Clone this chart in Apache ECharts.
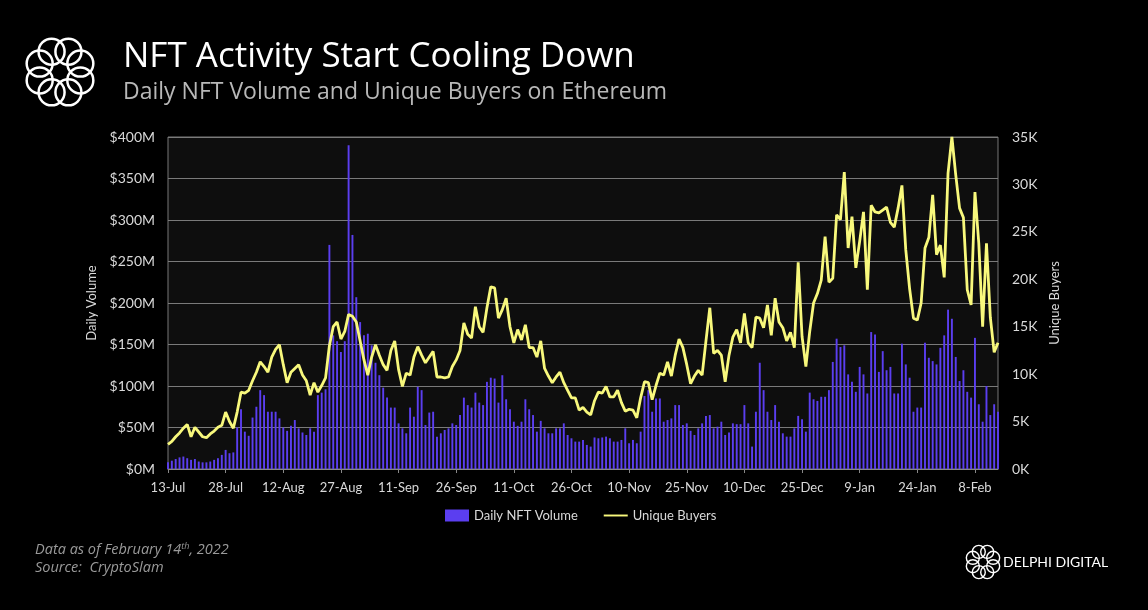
<!DOCTYPE html>
<html>
<head>
<meta charset="utf-8">
<script src="https://cdn.jsdelivr.net/npm/echarts@6/dist/echarts.min.js"></script>
<style>
html,body{margin:0;padding:0;background:#000;}
#chart{width:1148px;height:610px;}
</style>
</head>
<body>
<div id="chart"></div>
<script>
// Daily NFT volume on Ethereum, $M, one value per day starting 13-Jul-2021
const dailyVolume = [
  8,10,12,14,15,13,11,12,9,8,
  8,9,11,13,17,23,19,20,50,72,
  45,40,62,75,95,89,69,69,69,61,
  50,46,52,59,49,44,41,49,45,89,
  92,96,270,161,154,141,154,390,282,207,
  177,161,163,149,128,113,98,86,74,74,
  55,49,43,74,63,99,95,53,68,69,
  39,43,47,49,55,53,65,86,77,74,
  92,80,77,105,110,109,80,113,84,72,
  57,52,57,84,72,65,45,58,49,43,
  43,49,49,55,41,37,33,33,35,29,
  27,38,37,38,39,37,33,33,35,49,
  31,35,31,45,88,95,69,85,85,57,
  59,61,77,77,53,55,46,41,49,55,
  64,65,49,51,57,41,44,55,54,54,
  77,55,27,69,128,95,69,59,77,57,
  43,39,39,49,64,60,45,92,84,82,
  87,87,95,129,157,147,149,114,105,93,
  123,114,91,165,162,117,142,119,123,91,
  91,151,126,110,69,74,74,152,134,130,
  126,146,161,192,181,135,106,119,93,86,
  158,78,57,100,65,78,69
];
// Unique buyers, thousands
const uniqueBuyersK = [
  2.6,2.9,3.4,3.8,4.3,4.7,3.4,4.4,3.9,3.4,
  3.3,3.7,4.0,4.4,4.6,6.0,5.0,4.3,6.0,8.1,
  8.0,8.3,9.3,10.2,11.3,10.8,10.2,11.8,12.6,13.1,
  11.0,9.1,10.2,10.6,11.0,9.9,9.3,7.8,9.1,8.1,
  8.8,9.6,13.0,15.0,15.5,13.7,14.5,16.3,16.1,15.5,
  13.5,11.5,9.9,11.8,13.1,12.0,11.0,10.4,12.5,13.5,
  10.5,8.7,10.1,9.9,11.8,12.9,12.0,11.2,11.8,12.4,
  9.7,9.7,9.6,9.7,10.8,11.5,12.5,15.4,14.2,13.8,
  17.1,15.0,14.4,17.0,19.2,19.1,15.9,16.8,18.0,15.0,
  13.3,14.7,13.6,15.2,12.8,12.8,11.8,13.5,10.6,9.8,
  9.1,9.7,10.2,9.1,8.3,7.5,7.5,6.2,6.5,6.0,
  5.7,7.2,8.1,8.0,8.7,7.6,7.6,8.3,7.0,6.1,
  6.3,6.2,5.4,7.5,9.2,9.1,7.3,8.8,10.1,9.9,
  11.3,9.8,12.0,13.7,12.8,11.0,9.0,9.8,10.4,9.9,
  13.5,17.0,12.2,12.5,12.0,9.2,12.0,13.9,14.7,13.3,
  16.4,13.3,12.8,16.0,15.9,14.9,17.3,14.1,18.0,15.5,
  14.9,13.5,14.4,12.8,21.8,14.0,10.8,14.5,17.5,18.5,
  19.9,24.5,19.7,20.1,26.8,26.3,31.3,23.3,26.6,21.2,
  24.0,27.1,18.9,27.8,27.1,27.0,27.3,27.6,26.0,25.5,
  27.5,29.9,23.1,19.0,15.9,15.7,17.5,23.3,24.4,28.9,
  22.6,23.6,20.2,31.2,35.0,31.0,27.5,26.5,18.9,17.3,
  29.2,23.8,15.0,23.8,16.0,12.3,13.3
];
const startDate = '2021-07-13';
const monthNames = ['Jan','Feb','Mar','Apr','May','Jun','Jul','Aug','Sep','Oct','Nov','Dec'];
const leftTicks = [0, 400, 50];    // min, max, interval ($M)
const rightTicks = [0, 35000, 5000];

// category labels (one per day)
const dates = [];
(function(){
  const t0 = Date.parse(startDate + 'T00:00:00Z');
  for (let i = 0; i < dailyVolume.length; i++) {
    const d = new Date(t0 + i * 86400000);
    dates.push(d.getUTCDate() + '-' + monthNames[d.getUTCMonth()]);
  }
})();
const buyers = uniqueBuyersK.map(v => Math.round(v * 1000));

function logo(cx, cy, R, r, lw) {
  const els = [];
  for (let i = 0; i < 8; i++) {
    const a = i * Math.PI / 4 + Math.PI / 8;
    els.push({
      type: 'circle',
      shape: { cx: cx + R * Math.cos(a), cy: cy + R * Math.sin(a), r: r },
      style: { fill: 'none', stroke: '#fff', lineWidth: lw }
    });
  }
  return els;
}

const chart = echarts.init(document.getElementById('chart'), null, { renderer: 'canvas' });
const axisFont = 'Lato, "Liberation Sans", sans-serif';
const footFont = '"Open Sans", sans-serif';

chart.setOption({
  backgroundColor: '#000',
  animation: false,
  title: {
    text: 'NFT Activity Start Cooling Down',
    subtext: 'Daily NFT Volume and Unique Buyers on Ethereum',
    left: 118, top: 35,
    itemGap: 6,
    textStyle: { color: '#ffffff', fontSize: 35, fontWeight: 'normal', fontFamily: '"Open Sans", sans-serif' },
    subtextStyle: { color: '#b8b8b8', fontSize: 23, fontFamily: '"Open Sans", sans-serif' }
  },
  legend: {
    bottom: 83,
    left: 440,
    itemGap: 26,
    itemWidth: 24,
    itemHeight: 12,
    textStyle: { color: '#d9d9d9', fontSize: 13, fontFamily: axisFont },
    data: [
      { name: 'Daily NFT Volume', icon: 'rect' },
      { name: 'Unique Buyers', icon: 'path://M0,0 L30,0 L30,2.4 L0,2.4 Z' }
    ]
  },
  grid: {
    left: 168, right: 150, top: 137, bottom: 141,
    show: true, backgroundColor: '#0e0e0e', borderColor: '#777', borderWidth: 1
  },
  xAxis: {
    type: 'category',
    data: dates,
    boundaryGap: false,
    axisLine: { lineStyle: { color: '#888', width: 1 } },
    axisTick: { show: true, interval: 14, length: 4, lineStyle: { color: '#888' } },
    axisLabel: { interval: 14, color: '#d9d9d9', fontSize: 13, margin: 12, fontFamily: axisFont },
    splitLine: { show: false }
  },
  yAxis: [
    {
      type: 'value',
      min: leftTicks[0], max: leftTicks[1], interval: leftTicks[2],
      name: 'Daily Volume',
      nameLocation: 'middle',
      nameGap: 61,
      nameTextStyle: { color: '#d9d9d9', fontSize: 13, fontFamily: axisFont },
      axisLine: { show: false },
      axisTick: { show: false },
      axisLabel: { color: '#d9d9d9', fontSize: 14, margin: 13, fontFamily: axisFont,
        formatter: v => '$' + v + 'M' },
      splitLine: { show: true, lineStyle: { color: '#7a7a7a', width: 1 } }
    },
    {
      type: 'value',
      min: rightTicks[0], max: rightTicks[1], interval: rightTicks[2],
      name: 'Unique Buyers',
      nameLocation: 'middle',
      nameGap: 47,
      nameTextStyle: { color: '#d9d9d9', fontSize: 13, fontFamily: axisFont },
      axisLine: { show: false },
      axisTick: { show: false },
      axisLabel: { color: '#d9d9d9', fontSize: 14, margin: 14, fontFamily: axisFont,
        formatter: v => (v / 1000) + 'K' },
      splitLine: { show: false }
    }
  ],
  series: [
    {
      name: 'Daily NFT Volume',
      type: 'bar',
      yAxisIndex: 0,
      data: dailyVolume,
      barWidth: '50%',
      itemStyle: { color: '#5b3ef0' }
    },
    {
      name: 'Unique Buyers',
      type: 'line',
      yAxisIndex: 1,
      data: buyers,
      symbol: 'none',
      lineStyle: { color: '#f8f87c', width: 2.8 },
      itemStyle: { color: '#f8f87c' }
    }
  ],
  graphic: [].concat(
    logo(60, 72, 22, 13, 2.5),
    logo(983, 562, 11, 6.5, 1.4),
    [
      {
        type: 'text', left: 35, top: 542,
        style: {
          text: '{a|Data as of February 14}{s|th}{a|, 2022}',
          rich: {
            a: { fill: '#9a9a9a', fontSize: 14.5, fontStyle: 'italic', fontFamily: footFont },
            s: { fill: '#9a9a9a', fontSize: 9, fontStyle: 'italic', fontFamily: footFont, verticalAlign: 'top', padding: [0,0,6,0] }
          }
        }
      },
      {
        type: 'text', left: 35, top: 560,
        style: { text: 'Source:  CryptoSlam', fill: '#9a9a9a', fontSize: 14.5, fontStyle: 'italic', fontFamily: footFont }
      },
      {
        type: 'text', left: 1003, top: 555,
        style: { text: 'DELPHI DIGITAL', fill: '#ffffff', fontSize: 14, fontFamily: 'Lato, sans-serif' }
      }
    ]
  )
});
</script>
</body>
</html>
